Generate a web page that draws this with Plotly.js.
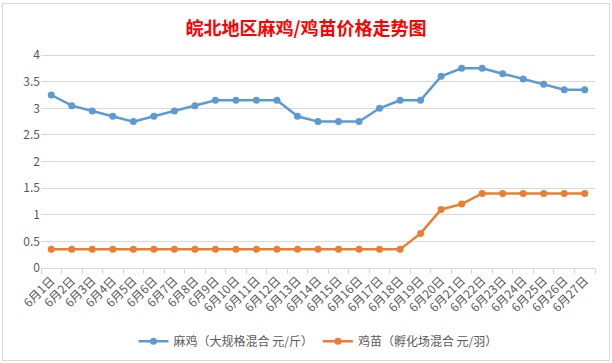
<!DOCTYPE html>
<html>
<head>
<meta charset="utf-8">
<script src="https://cdn.plot.ly/plotly-3.0.1.min.js"></script>
<style>
html,body{margin:0;padding:0;background:#fff;}
#wrap{position:absolute;left:2px;top:3px;width:606px;height:356px;border:1px solid #d9d9d9;}
#chart{width:606px;height:356px;}
</style>
</head>
<body>
<div id="wrap"><div id="chart"></div></div>
<script>
const categories = ["6月1日","6月2日","6月3日","6月4日","6月5日","6月6日","6月7日","6月8日","6月9日","6月10日","6月11日","6月12日","6月13日","6月14日","6月15日","6月16日","6月17日","6月18日","6月19日","6月20日","6月21日","6月22日","6月23日","6月24日","6月25日","6月26日","6月27日"];
const maji = [3.25,3.05,2.95,2.85,2.75,2.85,2.95,3.05,3.15,3.15,3.15,3.15,2.85,2.75,2.75,2.75,3.0,3.15,3.15,3.6,3.75,3.75,3.65,3.55,3.45,3.35,3.35];
const jimiao = [0.35,0.35,0.35,0.35,0.35,0.35,0.35,0.35,0.35,0.35,0.35,0.35,0.35,0.35,0.35,0.35,0.35,0.35,0.65,1.1,1.2,1.4,1.4,1.4,1.4,1.4,1.4];
const names = ["麻鸡（大规格混合 元/斤）","鸡苗（孵化场混合 元/羽）"];
const yTicks = [0,0.5,1,1.5,2,2.5,3,3.5,4];
const yTickText = ["0","0.5","1","1.5","2","2.5","3","3.5","4"];

const traces = [
  {x: categories, y: maji, name: names[0], type: "scatter", mode: "lines+markers",
   line: {color: "#5B9BD5", width: 2.5}, marker: {color: "#5B9BD5", size: 7}},
  {x: categories, y: jimiao, name: names[1], type: "scatter", mode: "lines+markers",
   line: {color: "#ED7D31", width: 2.5}, marker: {color: "#ED7D31", size: 7}}
];

const layout = {
  width: 606, height: 356,
  margin: {l: 38, r: 14, t: 50, b: 92},
  paper_bgcolor: "#fff", plot_bgcolor: "#fff",
  font: {family: "'Noto Sans CJK SC', 'Noto Sans', sans-serif", color: "#595959", size: 12},
  title: {text: "<b>皖北地区麻鸡/鸡苗价格走势图</b>", x: 0.5, xanchor: "center", y: 0.93, yanchor: "middle",
          font: {size: 18, color: "#FF0000", family: "'Noto Sans CJK SC', sans-serif"}},
  showlegend: true,
  legend: {orientation: "h", x: 0.5, xanchor: "center", yref: "container", y: 0.053, yanchor: "middle",
           font: {size: 12, color: "#595959"}, itemwidth: 30},
  xaxis: {type: "category", range: [-0.5, 26.5], tickangle: -45, showgrid: false, automargin: false,
          showline: true, linecolor: "#d9d9d9", linewidth: 1,
          ticks: "outside", tickson: "boundaries", ticklen: 5, tickcolor: "#d9d9d9",
          tickfont: {size: 12, color: "#595959"}, fixedrange: true},
  yaxis: {range: [0, 4.02], tickvals: yTicks, ticktext: yTickText, showgrid: true, gridcolor: "#d9d9d9", automargin: false,
          zeroline: false, showline: false, ticks: "", tickfont: {size: 12, color: "#595959"}, fixedrange: true}
};
Plotly.newPlot("chart", traces, layout, {displayModeBar: false, staticPlot: true});
</script>
</body>
</html>
